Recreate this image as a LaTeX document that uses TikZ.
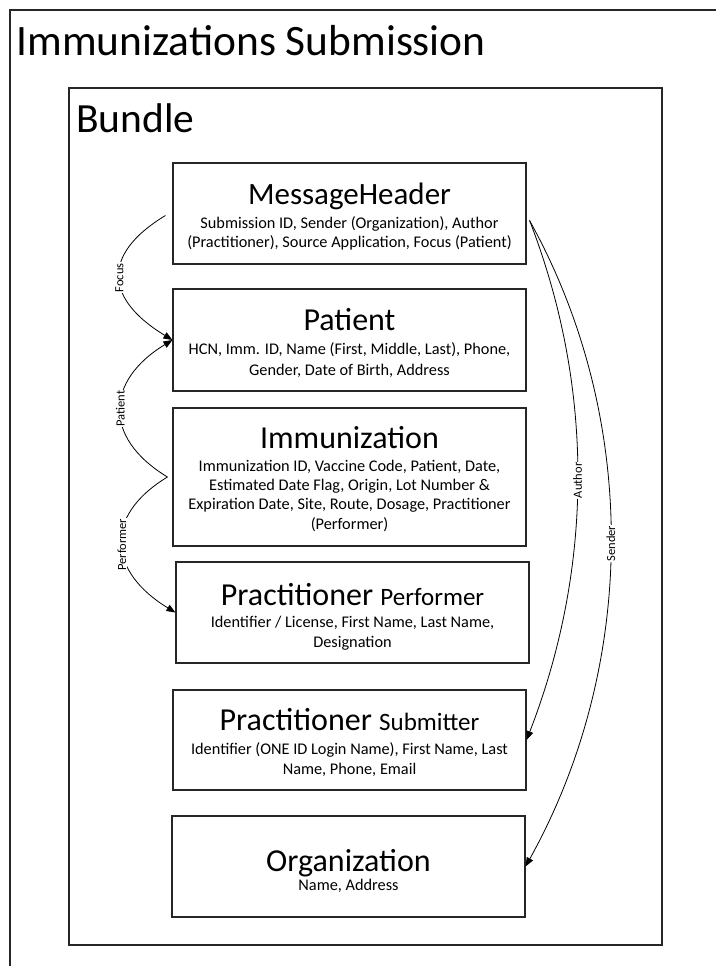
\documentclass[tikz,border=0pt]{standalone}
\usepackage{fontspec}
\setmainfont{Carlito}
\usetikzlibrary{arrows.meta,calc}

\begin{document}
\begin{tikzpicture}[x=1pt,y=-1pt,
  frame/.style={draw=black!85,line width=1.4pt},
  box/.style={draw=black!85,line width=1.1pt,inner sep=0pt},
  ttl/.style={anchor=base,inner sep=0pt,font=\fontsize{32}{38}\selectfont},
  body/.style={anchor=base,inner sep=0pt,font=\fontsize{16.3}{19.5}\selectfont},
  link/.style={draw=black,line width=0.8pt},
  arr/.style={link,-{Triangle[length=9pt,width=7pt]}},
  lbl/.style={fill=white,inner sep=1pt,rotate=90,font=\fontsize{12.5}{15}\selectfont}]

\useasboundingbox (0,0) rectangle (715,966);

% outer frame, open to the right and bottom
\draw[frame] (725,10) -- (10,10) -- (10,976);
\node[anchor=base west,inner sep=0pt,font=\fontsize{43.4}{52}\selectfont] (title) at (16.5,56) {Immunizations Submission};

% bundle container
\node[box,line width=1.4pt,minimum width=593pt,minimum height=857pt] (bundle) at (365.5,516.5) {};
\node[anchor=base west,inner sep=0pt,font=\fontsize{41.5}{50}\selectfont] (bundleT) at (76,132) {Bundle};

% resource boxes
\node[box,minimum width=353pt,minimum height=101pt] (mh)   at (349.5,213.5) {};
\node[box,minimum width=353pt,minimum height=102pt] (pat)  at (349.5,340) {};
\node[box,minimum width=353pt,minimum height=138pt] (imm)  at (349.5,477) {};
\node[box,minimum width=353pt,minimum height=101pt] (perf) at (352.5,612.5) {};
\node[box,minimum width=353pt,minimum height=100pt] (sub)  at (349.5,740) {};
\node[box,minimum width=353pt,minimum height=101pt] (org)  at (348.5,866.5) {};

% MessageHeader
\node[ttl,font=\fontsize{31}{37}\selectfont] (mhT) at (349.5,204) {MessageHeader};
\node[body] (mh1) at (349.5,228.5) {Submission ID, Sender (Organization), Author};
\node[body] (mh2) at (349.5,247.5) {(Practitioner), Source Application, Focus (Patient)};

% Patient
\node[ttl] (patT) at (349.5,330) {Patient};
\node[body] (pat1) at (349.5,354) {HCN, Imm. ID, Name (First, Middle, Last), Phone,};
\node[body] (pat2) at (349.5,375) {Gender, Date of Birth, Address};

% Immunization
\node[ttl] (immT) at (349.5,448.5) {Immunization};
\node[body] (imm1) at (349.5,471.5) {Immunization ID, Vaccine Code, Patient, Date,};
\node[body] (imm2) at (349.5,490.5) {Estimated Date Flag, Origin, Lot Number \&};
\node[body] (imm3) at (349.5,509.5) {Expiration Date, Site, Route, Dosage, Practitioner};
\node[body] (imm4) at (349.5,529.5) {(Performer)};

% Practitioner (performer)
\node[ttl] (perfT) at (352.5,605) {Practitioner {\fontsize{25}{30}\selectfont Performer}};
\node[body] (perf1) at (352.5,627) {Identifier / License, First Name, Last Name,};
\node[body] (perf2) at (352.5,647) {Designation};

% Practitioner (submitter)
\node[ttl] (subT) at (349.5,730) {Practitioner {\fontsize{25}{30}\selectfont Submitter}};
\node[body] (sub1) at (349.5,754) {Identifier (ONE ID Login Name), First Name, Last};
\node[body] (sub2) at (349.5,774) {Name, Phone, Email};

% Organization
\node[ttl] (orgT) at (348.5,871) {Organization};
\node[body] (org1) at (348.5,890) {Name, Address};

% references on the left
\draw[arr] ($(mh.west)+(-7,2)$) .. controls +(-66,40) and +(-66,-40) .. (pat.west)
  node[lbl,pos=0.5] (lFocus) {Focus};
\draw[arr] ($(imm.west)+(-5,0)$) .. controls +(-66,-40) and +(-66,40) .. (pat.west)
  node[lbl,pos=0.5] (lPatient) {Patient};
\draw[arr] ($(imm.west)+(-5,0)$) .. controls +(-66,40) and +(-66,-40) .. (perf.west)
  node[lbl,pos=0.5] (lPerformer) {Performer};

% references on the right
\draw[arr] ($(mh.east)+(3,7)$) .. controls +(66,170) and +(66,-170) .. (sub.east)
  node[lbl,pos=0.5] (lAuthor) {Author};
\draw[arr] ($(mh.east)+(3,7)$) .. controls +(111,200) and +(111,-200) .. (org.east)
  node[lbl,pos=0.5] (lSender) {Sender};

\end{tikzpicture}
\end{document}
